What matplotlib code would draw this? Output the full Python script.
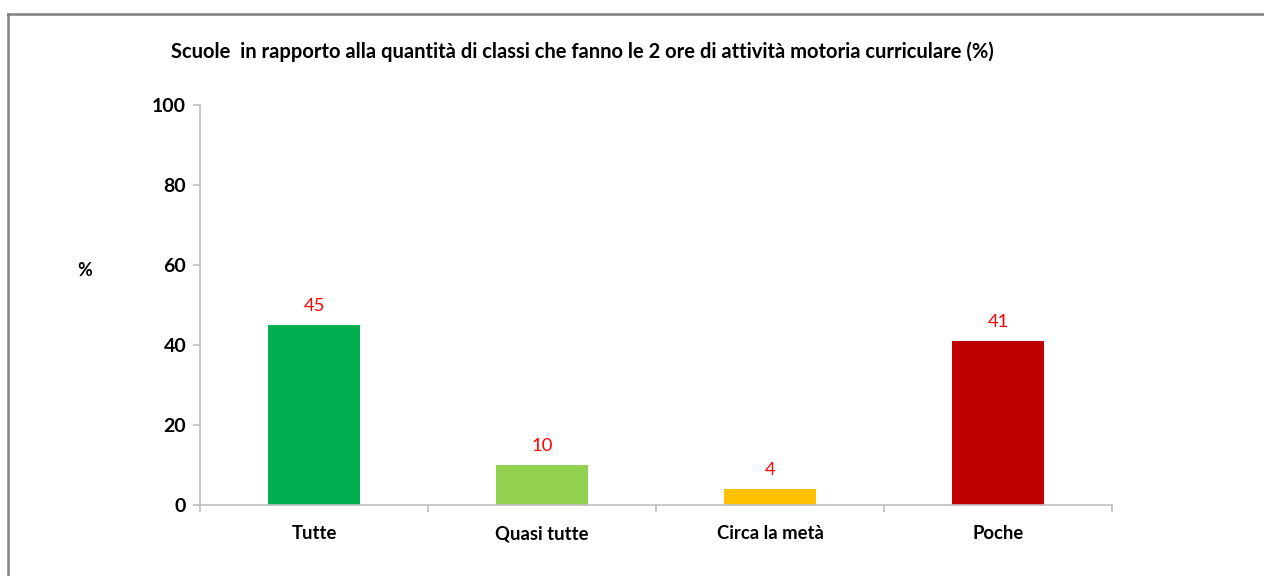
import matplotlib
matplotlib.use("Agg")
import matplotlib.pyplot as plt
from matplotlib.lines import Line2D

categories = ["Tutte", "Quasi tutte", "Circa la metà", "Poche"]
values = [45, 10, 4, 41]
colors = ["#00B050", "#92D050", "#FFC000", "#C00000"]
yticks = [0, 20, 40, 60, 80, 100]
title = "Scuole  in rapporto alla quantità di classi che fanno le 2 ore di attività motoria curriculare (%)"

plt.rcParams['font.family'] = ['Lato', 'DejaVu Sans']

fig = plt.figure(figsize=(12.64, 5.76), dpi=100)
ax = fig.add_axes([200/1264, 71/576, 912/1264, 400/576])

x = list(range(len(categories)))
ax.bar(x, values, width=0.4, color=colors, zorder=2)
for xi, v in zip(x, values):
    ax.annotate(str(v), (xi, v), xytext=(0, 14), textcoords="offset points",
                ha="center", va="center", color="#FF0000", fontsize=13.3)

ax.set_xlim(-0.5, len(categories) - 0.5)
ax.set_ylim(0, 100)
ax.set_yticks(yticks)
ax.set_yticklabels([str(t) for t in yticks], fontsize=14, fontweight="bold")
ax.set_xticks(x)
ax.set_xticklabels([])
ax.tick_params(axis="x", length=0)
for xi, cat in zip(x, categories):
    ax.annotate(cat, (xi, 0), xycoords=("data", "axes fraction"),
                xytext=(0, -24.5), textcoords="offset points",
                ha="center", va="baseline", fontsize=13.3, fontweight="bold")
ax.set_xticks([i - 0.5 for i in range(len(categories) + 1)], minor=True)
ax.tick_params(axis="x", which="minor", length=5, color="#BFBFBF", width=1.2)
ax.tick_params(axis="y", length=5, color="#BFBFBF", width=1.2, pad=5)

for s in ["top", "right"]:
    ax.spines[s].set_visible(False)
for s in ["left", "bottom"]:
    ax.spines[s].set_color("#BFBFBF")
    ax.spines[s].set_linewidth(1.2)

fig.text(85/1264, 1 - 271/576, "%", ha="center", va="center", fontsize=13, fontweight="bold")
fig.text(582/1264, 1 - 52/576, title, ha="center", va="center", fontsize=14.5, fontweight="bold")

# outer frame (top and left edges visible)
fig.add_artist(Line2D([7.5/1264, 1], [1 - 13.5/576, 1 - 13.5/576], transform=fig.transFigure, color="#808080", lw=1.8))
fig.add_artist(Line2D([7.5/1264, 7.5/1264], [0, 1 - 13.5/576], transform=fig.transFigure, color="#808080", lw=1.8))

fig.savefig("out.png", dpi=100)
